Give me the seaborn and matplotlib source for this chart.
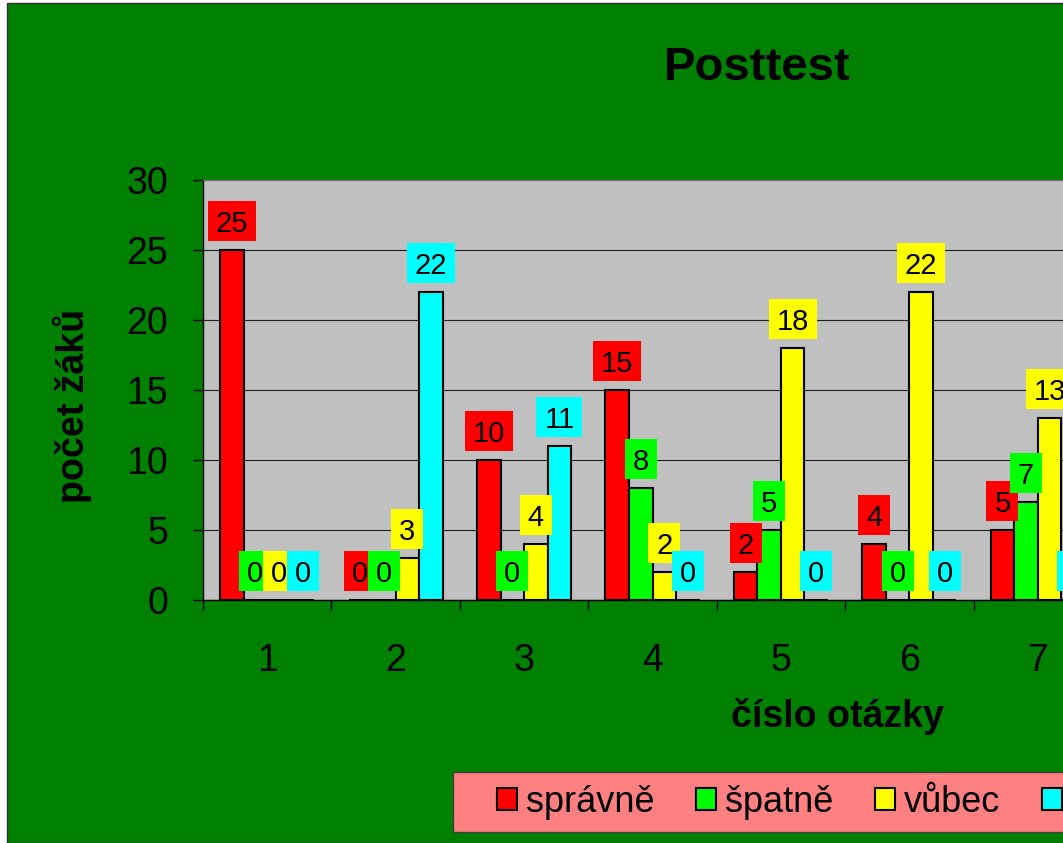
import numpy as np
import pandas as pd
import matplotlib
matplotlib.use("Agg")
import matplotlib.pyplot as plt
from matplotlib.patches import Rectangle, Patch
from matplotlib.path import Path
from matplotlib.ticker import FixedLocator
import seaborn as sns

# ---- data ----
questions = ["1", "2", "3", "4", "5", "6", "7"]
series_names = ["správně", "špatně", "vůbec", "částečně"]
spravne = [25, 0, 10, 15, 2, 4, 5]
spatne = [0, 0, 0, 8, 5, 0, 7]
vubec = [0, 3, 4, 2, 18, 22, 13]
castecne = [0, 22, 11, 0, 0, 0, 0]
colors = ["#FF0000", "#00FF00", "#FFFF00", "#00FFFF"]
y_ticks = [0, 5, 10, 15, 20, 25, 30]

df = pd.DataFrame({
    "otázka": questions * 4,
    "odpověď": np.repeat(series_names, len(questions)),
    "počet": spravne + spatne + vubec + castecne,
})
palette = dict(zip(series_names, colors))

plt.rcParams["font.family"] = ["Liberation Sans", "DejaVu Sans"]

W, H = 1063, 843
fig = plt.figure(figsize=(W / 100, H / 100), dpi=100, facecolor="white")

# green chart area
fig.add_artist(Rectangle((7 / W, 0), 1.2, (H - 3) / H, transform=fig.transFigure,
                         facecolor="#008000", edgecolor="#303030", lw=1, zorder=-5))

ax = fig.add_axes([203 / W, (H - 600) / H, 899 / W, 420 / H])
ax.set_facecolor("#C0C0C0")

sns.barplot(data=df, x="otázka", y="počet", hue="odpověď", order=questions,
            hue_order=series_names, palette=palette, saturation=1, width=0.734,
            edgecolor="black", linewidth=1.5, legend=False, ax=ax, zorder=2)

ax.set_xlim(-0.5, len(questions) - 0.5)
ax.set_ylim(0, 30)
ax.set_yticks(y_ticks)
ax.yaxis.grid(True, color="#202020", lw=0.8)
ax.set_axisbelow(True)

ax.tick_params(axis="y", labelsize=27, length=7.2, width=1, color="black", pad=18)
ax.tick_params(axis="x", which="major", labelsize=27, length=0, pad=31)
ax.xaxis.set_minor_locator(FixedLocator(np.arange(-0.5, len(questions), 1.0)))
ax.tick_params(axis="x", which="minor", length=7.2, width=1, color="black")

for side in ["left", "bottom"]:
    ax.spines[side].set_color("black")
    ax.spines[side].set_linewidth(1)
ax.spines["top"].set_color("#707070")
ax.spines["right"].set_color("#707070")

ax.set_xlabel("číslo otázky", fontsize=27, fontweight="bold")
ax.xaxis.set_label_coords(0.706, -0.233)
ax.set_ylabel("počet žáků", fontsize=27, fontweight="bold")
ax.yaxis.set_label_coords(-0.123, 0.462)

ax.set_title("Posttest", fontsize=34, fontweight="bold", x=0.616, y=(600 - 80) / 420,
             pad=0, va="baseline")


def label_box(x0, y0, width, height, mutation_size):
    px = 0.27 * mutation_size
    pb = 0.10 * mutation_size
    pt = 0.30 * mutation_size
    verts = [(x0 - px, y0 - pb), (x0 + width + px, y0 - pb),
             (x0 + width + px, y0 + height + pt), (x0 - px, y0 + height + pt),
             (x0 - px, y0 - pb)]
    return Path(verts, closed=True)


for container, name in zip(ax.containers, series_names):
    for bar in container:
        h = bar.get_height()
        xc = bar.get_x() + bar.get_width() / 2
        ax.annotate(f"{int(round(h))}", xy=(xc, h), xytext=(0, 8.6),
                    textcoords="offset points", ha="center", va="bottom",
                    fontsize=21, color="black", zorder=5,
                    bbox=dict(boxstyle=label_box, facecolor=palette[name],
                              edgecolor="none"))

# legend
fig.add_artist(Rectangle((453 / W, 1 - 832 / H), 1.0, 60 / H, transform=fig.transFigure,
                         facecolor="#FF8080", edgecolor="#404040", lw=1, zorder=1))
handles = [Patch(facecolor=palette[n], edgecolor="black", linewidth=1.5) for n in series_names]
fig.legend(handles, series_names, loc="center left",
           bbox_to_anchor=(497 / W, 1 - 802 / H), ncol=4, frameon=False,
           borderpad=0, borderaxespad=0, handlelength=0.55, handleheight=0.55,
           handletextpad=0.25, columnspacing=1.16, fontsize=26)

fig.savefig("out.png", dpi=100, facecolor=fig.get_facecolor())
